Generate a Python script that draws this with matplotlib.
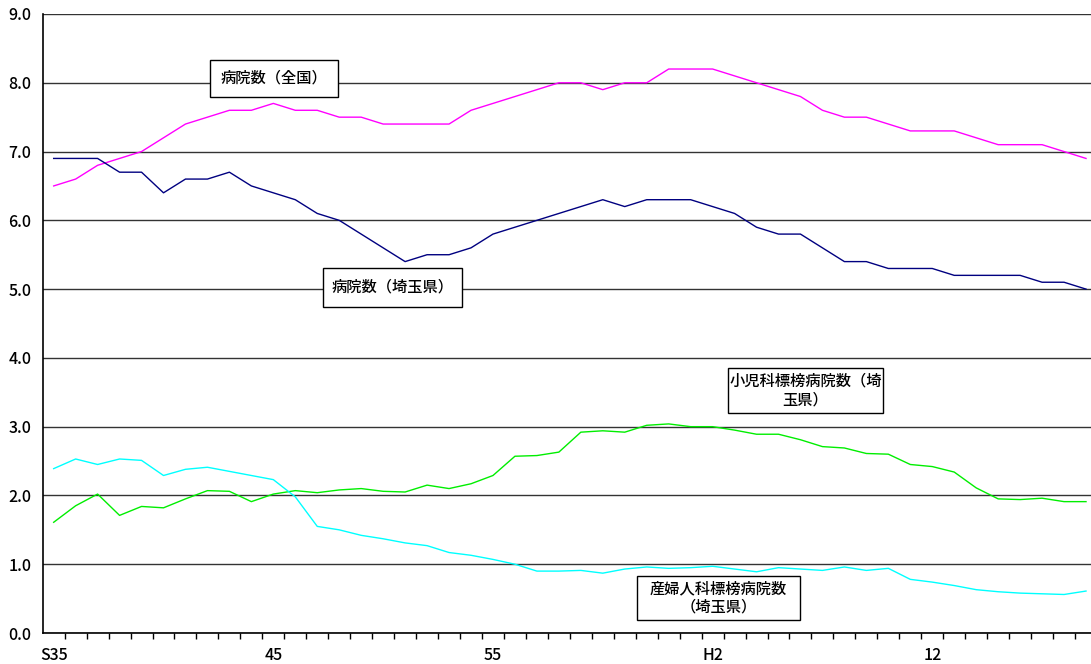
import matplotlib.pyplot as plt
from matplotlib.patches import Rectangle
from matplotlib.ticker import FormatStrFormatter, MultipleLocator

plt.rcParams["font.family"] = ["Noto Sans CJK JP", "DejaVu Sans"]

# 48 years, S35 (1960) .. H19 (2007)
years = list(range(1960, 2008))
tick_positions = [0, 10, 20, 30, 40]
tick_labels = ["S35", "45", "55", "H2", "12"]

hospitals_japan = [
    6.5, 6.6, 6.8, 6.9, 7.0, 7.2, 7.4, 7.5, 7.6, 7.6,
    7.7, 7.6, 7.6, 7.5, 7.5, 7.4, 7.4, 7.4, 7.4, 7.6,
    7.7, 7.8, 7.9, 8.0, 8.0, 7.9, 8.0, 8.0, 8.2, 8.2,
    8.2, 8.1, 8.0, 7.9, 7.8, 7.6, 7.5, 7.5, 7.4, 7.3,
    7.3, 7.3, 7.2, 7.1, 7.1, 7.1, 7.0, 6.9,
]
hospitals_saitama = [
    6.9, 6.9, 6.9, 6.7, 6.7, 6.4, 6.6, 6.6, 6.7, 6.5,
    6.4, 6.3, 6.1, 6.0, 5.8, 5.6, 5.4, 5.5, 5.5, 5.6,
    5.8, 5.9, 6.0, 6.1, 6.2, 6.3, 6.2, 6.3, 6.3, 6.3,
    6.2, 6.1, 5.9, 5.8, 5.8, 5.6, 5.4, 5.4, 5.3, 5.3,
    5.3, 5.2, 5.2, 5.2, 5.2, 5.1, 5.1, 5.0,
]
pediatrics_saitama = [
    1.61, 1.85, 2.02, 1.71, 1.84, 1.82, 1.95, 2.07, 2.06, 1.91,
    2.02, 2.07, 2.04, 2.08, 2.10, 2.06, 2.05, 2.15, 2.10, 2.17,
    2.29, 2.57, 2.58, 2.63, 2.92, 2.94, 2.92, 3.02, 3.04, 3.00,
    3.00, 2.95, 2.89, 2.89, 2.81, 2.71, 2.69, 2.61, 2.60, 2.45,
    2.42, 2.34, 2.11, 1.95, 1.94, 1.96, 1.91, 1.91,
]
obstetrics_saitama = [
    2.39, 2.53, 2.45, 2.53, 2.51, 2.29, 2.38, 2.41, 2.35, 2.29,
    2.23, 1.98, 1.55, 1.50, 1.42, 1.37, 1.31, 1.27, 1.17, 1.13,
    1.07, 1.00, 0.90, 0.90, 0.91, 0.87, 0.93, 0.96, 0.94, 0.95,
    0.97, 0.93, 0.89, 0.95, 0.93, 0.91, 0.96, 0.91, 0.94, 0.78,
    0.74, 0.69, 0.63, 0.60, 0.58, 0.57, 0.56, 0.61,
]

W, H = 1091, 664
fig = plt.figure(figsize=(W / 100, H / 100), dpi=100)
ax = fig.add_axes([42.7 / W, 1 - 633 / H, (1097 - 42.7) / W, (633 - 14) / H])

x = list(range(len(years)))
ax.plot(x, hospitals_japan, color="#FF00FF", lw=1.0)
ax.plot(x, hospitals_saitama, color="#000080", lw=1.0)
ax.plot(x, pediatrics_saitama, color="#00EE00", lw=1.0)
ax.plot(x, obstetrics_saitama, color="#00FFFF", lw=1.0)

ax.set_xlim(-0.5, len(years) - 0.5)
ax.set_ylim(0, 9)
ax.yaxis.set_major_locator(MultipleLocator(1.0))
ax.yaxis.set_major_formatter(FormatStrFormatter("%.1f"))
ax.grid(axis="y", color="#333333", lw=1.0)
ax.set_axisbelow(True)

ax.set_xticks(tick_positions)
ax.set_xticklabels(tick_labels)
ax.set_xticks([i - 0.5 for i in range(1, len(years))], minor=True)
ax.tick_params(axis="x", which="major", length=0, pad=10, labelsize=11.5)
ax.tick_params(axis="x", which="minor", length=4.5, width=1.0, direction="out")
ax.tick_params(axis="y", length=0, pad=8, labelsize=11.5)
for lbl in ax.get_xticklabels() + ax.get_yticklabels():
    lbl.set_fontweight("medium")

for side in ["top", "right"]:
    ax.spines[side].set_visible(False)
for side in ["left", "bottom"]:
    ax.spines[side].set_linewidth(1.2)

# annotation boxes (pixel positions from top-left)
boxes = [
    (210, 60, 338, 97, "病院数（全国）"),
    (323, 268, 462, 307, "病院数（埼玉県）"),
    (728, 368, 883, 413, "小児科標榜病院数（埼\n玉県）"),
    (637, 576, 800, 620, "産婦人科標榜病院数\n（埼玉県）"),
]
for x0, y0, x1, y1, label in boxes:
    fig.add_artist(Rectangle((x0 / W, 1 - y1 / H), (x1 - x0) / W, (y1 - y0) / H,
                             transform=fig.transFigure, facecolor="white",
                             edgecolor="black", lw=1.0, zorder=5))
    fig.text((x0 + x1) / 2 / W, 1 - (y0 + y1) / 2 / H, label, ha="center",
             va="center", fontsize=11, fontweight="medium", linespacing=1.1,
             zorder=6)

fig.savefig("out.png", dpi=100)
